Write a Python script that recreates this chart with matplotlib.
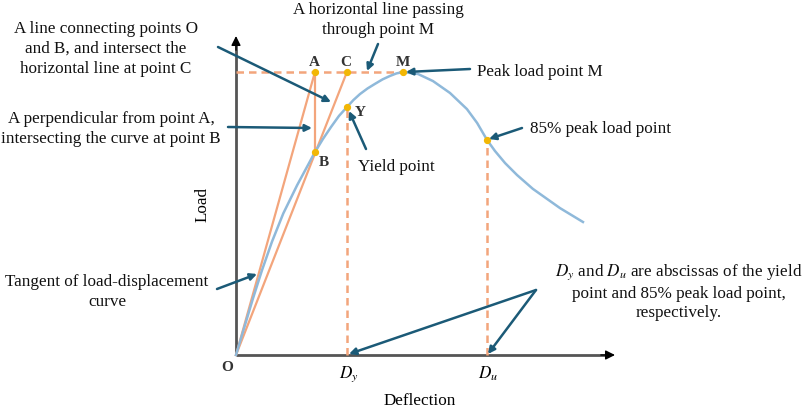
import matplotlib
matplotlib.use("Agg")
import matplotlib.pyplot as plt

plt.rcParams['font.family'] = ['Liberation Serif', 'DejaVu Serif']

# ---- data (normalised: peak load = 1) ----
curve_x = [0.000, 0.030, 0.060, 0.092, 0.127, 0.167, 0.216, 0.279, 0.307,
           0.336, 0.364, 0.392, 0.415, 0.438, 0.465, 0.491, 0.518, 0.544, 0.567,
           0.590, 0.643, 0.696, 0.756, 0.816, 0.852, 0.887, 0.915, 0.951, 0.993,
           1.049, 1.145, 1.226]
curve_y = [0.000, 0.100, 0.200, 0.300, 0.400, 0.500, 0.600, 0.717, 0.763,
           0.806, 0.845, 0.876, 0.901, 0.922, 0.942, 0.958, 0.974, 0.986, 0.995,
           1.000, 0.993, 0.968, 0.926, 0.869, 0.820, 0.760, 0.721, 0.678, 0.636,
           0.587, 0.519, 0.470]

O = (0.0, 0.0)
A = (0.279, 1.000)
B = (0.279, 0.717)
C = (0.392, 1.000)
Y = (0.392, 0.876)
M = (0.590, 1.000)
P85 = (0.887, 0.760)
Dy = Y[0]
Du = P85[0]

ORANGE = '#f3a57c'
BLUE = '#8fb9da'
GOLD = '#f2b705'
TEAL = '#1b5a77'
AXC = '#555555'

W, H = 803, 410
ox, oy, scale = 236, 356, 283.0


def P(px, py):
    """pixel layout position -> data coordinates"""
    return ((px - ox) / scale, (oy - py) / scale)


fig = plt.figure(figsize=(W / 100, H / 100), dpi=100)
ax = fig.add_axes([0, 0, 1, 1])
ax.set_xlim(-ox / scale, (W - ox) / scale)
ax.set_ylim((oy - H) / scale, oy / scale)
ax.axis('off')

FS = 12.3

# axes with arrows
xtip = P(615, oy)
ytip = P(ox, 37)
ax.plot([0, xtip[0] - 0.03], [0, 0], color=AXC, lw=2, zorder=2, solid_capstyle='butt')
ax.plot([0, 0], [0, ytip[1] - 0.03], color=AXC, lw=2, zorder=2, solid_capstyle='butt')
ax.annotate('', xy=xtip, xytext=(xtip[0] - 0.05, 0),
            arrowprops=dict(arrowstyle='-|>', color='black', lw=1, mutation_scale=14,
                            shrinkA=0, shrinkB=0))
ax.annotate('', xy=ytip, xytext=(0, ytip[1] - 0.05),
            arrowprops=dict(arrowstyle='-|>', color='black', lw=1, mutation_scale=14,
                            shrinkA=0, shrinkB=0))

# construction lines
ax.plot([O[0], A[0]], [O[1], A[1]], color=ORANGE, lw=1.6, zorder=3)
ax.plot([A[0], B[0]], [A[1], B[1]], color=ORANGE, lw=1.6, zorder=3)
ax.plot([O[0], C[0]], [O[1], C[1]], color=ORANGE, lw=1.6, zorder=3)
dash = (3.0, 2.0)
ax.plot([0, M[0]], [M[1], M[1]], color=ORANGE, lw=1.8, dashes=dash, zorder=3)
ax.plot([Dy, Dy], [0, Y[1]], color=ORANGE, lw=1.8, dashes=dash, zorder=3)
ax.plot([Du, Du], [0, P85[1]], color=ORANGE, lw=1.8, dashes=dash, zorder=3)

# curve
ax.plot(curve_x, curve_y, color=BLUE, lw=1.8, zorder=4, solid_joinstyle='round')

# key points
pts = [A, B, C, Y, M, P85]
ax.plot([p[0] for p in pts], [p[1] for p in pts], 'o', color=GOLD, ms=4.2, zorder=6)

# point labels
lab = dict(fontsize=11, fontweight='bold', color='#333333', ha='center', va='center')
ax.text(*P(314, 63), 'A', **lab)
ax.text(*P(346, 63), 'C', **lab)
ax.text(*P(403, 63), 'M', **lab)
ax.text(*P(360, 113), 'Y', **lab)
ax.text(*P(324, 162), 'B', **lab)
ax.text(*P(227, 368), 'O', **lab)
ax.text(*P(349, 374), r'$D_y$', fontsize=FS, ha='center', va='center',
        math_fontfamily='stix')
ax.text(*P(488, 374), r'$D_u$', fontsize=FS, ha='center', va='center',
        math_fontfamily='stix')
ax.text(*P(420, 401), 'Deflection', fontsize=FS, ha='center', va='center')
ax.text(*P(203, 205), 'Load', fontsize=FS, ha='center', va='center', rotation=90)

# annotation texts
tx = dict(fontsize=FS, ha='center', va='center', linespacing=1.3, color='#111111')
ax.text(*P(106, 49), 'A line connecting points O\nand B, and intersect the\nhorizontal line at point C', **tx)
ax.text(*P(378, 20), 'A horizontal line passing\nthrough point M', **tx)
ax.text(*P(111, 129), 'A perpendicular from point A,\nintersecting the curve at point B', **tx)
ax.text(*P(107, 292), 'Tangent of load-displacement\ncurve', **tx)
ax.text(*P(679, 292), '$D_y$ and $D_u$ are abscissas of the yield\npoint and 85% peak load point,\nrespectively.',
        math_fontfamily='stix', **tx)
ax.text(*P(477, 72), 'Peak load point M', fontsize=FS, ha='left', va='center', color='#111111')
ax.text(*P(530, 129), '85% peak load point', fontsize=FS, ha='left', va='center', color='#111111')
ax.text(*P(358, 167), 'Yield point', fontsize=FS, ha='left', va='center', color='#111111')

# arrows
arw = dict(arrowstyle='-|>', color=TEAL, lw=1.8, mutation_scale=10, shrinkA=0, shrinkB=0)
arrows = [
    ((218, 48), (331, 103)),
    ((378, 45), (367, 72)),
    ((470, 70), (406, 73)),
    ((228, 128), (312, 129)),
    ((366, 150), (349, 112)),
    ((522, 129), (489, 140)),
    ((217, 290), (257, 275)),
    ((536, 291), (349, 355)),
    ((536, 291), (488, 355)),
]
for (sx, sy), (ex, ey) in arrows:
    ax.annotate('', xy=P(ex, ey), xytext=P(sx, sy), arrowprops=arw, zorder=7)

fig.savefig('out.png', dpi=100)
